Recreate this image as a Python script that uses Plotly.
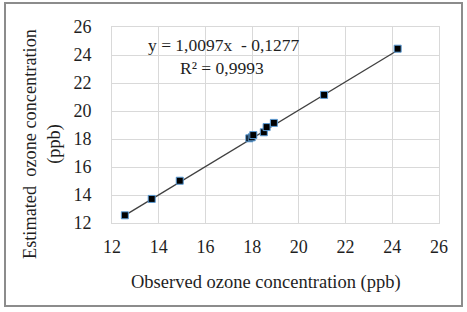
import plotly.graph_objects as go
import numpy as np

# Data
observed = [12.55, 13.7, 14.9, 17.88, 17.98, 18.05, 18.5, 18.62, 18.93, 21.08, 24.23]
estimated = [12.55, 13.72, 15.02, 18.05, 18.12, 18.28, 18.48, 18.85, 19.15, 21.15, 24.45]
slope = 1.0097
intercept = -0.1277
r2_label = "R² = 0,9993"
eq_label = "y = 1,0097x  - 0,1277"
ticks = [12, 14, 16, 18, 20, 22, 24, 26]

W, H = 467, 312
ml, mr, mt, mb = 112, 28, 27, 89
pw, ph = W - ml - mr, H - mt - mb

def px2x(px):
    return (px - ml) / pw

def px2y(py):
    return (H - mb - py) / ph

font = "Liberation Serif, Times New Roman, serif"
txt = "#1f1f1f"

xline = np.array([min(observed), max(observed)])
yline = slope * xline + intercept

fig = go.Figure()
fig.add_trace(go.Scatter(x=xline, y=yline, mode="lines",
                         line=dict(color="#404040", width=1.3),
                         showlegend=False, hoverinfo="skip"))
fig.add_trace(go.Scatter(x=observed, y=estimated, mode="markers",
                         marker=dict(symbol="square", size=7, color="#000000",
                                     line=dict(color="#5b9bd5", width=1)),
                         showlegend=False))

grid = "#d9d9d9"
axcommon = dict(range=[12, 26], tickvals=ticks, showgrid=True, gridcolor=grid,
                gridwidth=1, showline=True, mirror=True, linecolor=grid, linewidth=1,
                zeroline=False, ticks="outside", tickcolor="rgba(0,0,0,0)",
                tickfont=dict(family=font, size=18, color=txt))
fig.update_xaxes(**axcommon, ticklen=7)
fig.update_yaxes(**axcommon, ticklen=16)

fig.update_layout(
    width=W, height=H,
    margin=dict(l=ml, r=mr, t=mt, b=mb),
    paper_bgcolor="white", plot_bgcolor="white",
    font=dict(family=font, color=txt),
    shapes=[dict(type="rect", xref="paper", yref="paper",
                 x0=px2x(5), x1=px2x(462), y0=px2y(306), y1=px2y(3),
                 line=dict(color="#8c8c8c", width=2), fillcolor="rgba(0,0,0,0)",
                 layer="below")],
    annotations=[
        dict(text=eq_label, xref="paper", yref="paper", x=px2x(224), y=px2y(45),
             showarrow=False, font=dict(family=font, size=17.5, color=txt),
             xanchor="center", yanchor="middle"),
        dict(text=r2_label, xref="paper", yref="paper", x=px2x(222), y=px2y(68),
             showarrow=False, font=dict(family=font, size=17.5, color=txt),
             xanchor="center", yanchor="middle"),
        dict(text="Observed ozone concentration (ppb)", xref="paper", yref="paper",
             x=px2x(266), y=px2y(282), showarrow=False,
             font=dict(family=font, size=18.5, color=txt),
             xanchor="center", yanchor="middle"),
        dict(text="Estimated  ozone concentration<br>(ppb)", xref="paper", yref="paper",
             x=px2x(42), y=px2y(144), showarrow=False, textangle=-90,
             font=dict(family=font, size=18.3, color=txt),
             xanchor="center", yanchor="middle"),
    ],
)

fig.write_html("out.html")
